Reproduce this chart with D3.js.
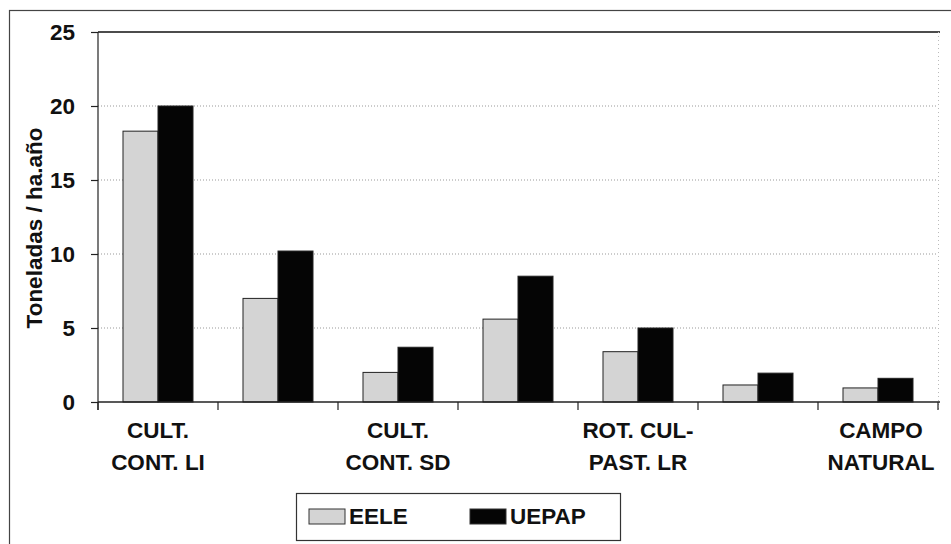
<!DOCTYPE html>
<html>
<head>
<meta charset="utf-8">
<script src="https://cdn.jsdelivr.net/npm/d3@7"></script>
<style>
  body { margin: 0; background: #fff; }
  svg { display: block; font-family: "Liberation Sans", Arial, sans-serif; font-weight: bold; }
</style>
</head>
<body>
<svg id="chart" width="951" height="544"></svg>
<script>
// seven groups, Excel only printed every other label
const categories = [0, 1, 2, 3, 4, 5, 6];
const tickLabels = [["CULT.", "CONT. LI"], null, ["CULT.", "CONT. SD"], null,
                    ["ROT. CUL-", "PAST. LR"], null, ["CAMPO", "NATURAL"]];
const series = ["EELE", "UEPAP"];
const eele  = [18.3, 7.0, 2.0, 5.6, 3.4, 1.15, 0.95];
const uepap = [20.0, 10.2, 3.7, 8.5, 5.0, 1.95, 1.6];
const yTicks = [0, 5, 10, 15, 20, 25];

const colors = { EELE: "#d4d4d4", UEPAP: "#050505" };

drawChart();

function drawChart(){
    let svg = d3.select("#chart");

    // outer frame of the scanned figure
    svg.append("rect")
        .attr("x", 9.5).attr("y", 10.5)
        .attr("width", 945).attr("height", 545)
        .attr("fill", "none").attr("stroke", "#444").attr("stroke-width", 1.2);

    let x = d3.scaleBand().domain(categories).range([98, 938]).padding(0);
    let xs = d3.scaleBand().domain(series)
        .range([25, x.bandwidth() - 25]).padding(0);
    let y = d3.scaleLinear().domain([0, 25]).range([402, 32]);

    // gridlines
    svg.append("g").selectAll("line")
        .data(yTicks.filter(d => d > 0))
        .enter().append("line")
        .attr("x1", 98).attr("x2", d => d === 25 ? 940 : 938)
        .attr("y1", d => y(d)).attr("y2", d => y(d))
        .attr("stroke", d => d === 25 ? "#111" : "#999")
        .attr("stroke-width", d => d === 25 ? 1.5 : 1)
        .attr("stroke-dasharray", d => d === 25 ? null : "1,2");

    // faint right border of the plot area
    svg.append("line")
        .attr("x1", 938.5).attr("x2", 938.5).attr("y1", 32).attr("y2", 410)
        .attr("stroke", "#bbb").attr("stroke-dasharray", "1,3");

    // bars
    let data = categories.map((c, i) => ({c: c, values: [
        {key: "EELE", v: eele[i]}, {key: "UEPAP", v: uepap[i]}]}));

    let g = svg.append("g").selectAll("g")
        .data(data).enter().append("g")
        .attr("transform", d => "translate(" + x(d.c) + ",0)");

    g.selectAll("rect")
        .data(d => d.values)
        .enter().append("rect")
        .attr("x", d => xs(d.key))
        .attr("y", d => y(d.v))
        .attr("width", xs.bandwidth())
        .attr("height", d => y(0) - y(d.v))
        .attr("fill", d => colors[d.key])
        .attr("stroke", "#222").attr("stroke-width", 1);

    // y axis
    let yAxis = svg.append("g")
        .attr("transform", "translate(98,0)")
        .call(d3.axisLeft(y).tickValues(yTicks).tickSize(7).tickPadding(16));
    yAxis.select(".domain").remove();
    yAxis.selectAll("line").attr("stroke", "#222").attr("stroke-width", 1.2);
    yAxis.selectAll("text").attr("font-size", 22.5).attr("font-weight", "bold")
        .attr("fill", "#111").attr("font-family", "Liberation Sans, Arial, sans-serif");
    svg.append("line").attr("x1", 98).attr("x2", 98).attr("y1", 32).attr("y2", 410)
        .attr("stroke", "#222").attr("stroke-width", 1.2);

    // x axis line and ticks at group boundaries
    svg.append("line").attr("x1", 98).attr("x2", 940).attr("y1", y(0)).attr("y2", y(0))
        .attr("stroke", "#222").attr("stroke-width", 1.5);
    let bounds = categories.map(c => x(c)).concat([x.range()[1]]);
    svg.append("g").selectAll("line")
        .data(bounds).enter().append("line")
        .attr("x1", d => d).attr("x2", d => d)
        .attr("y1", y(0)).attr("y2", y(0) + 8)
        .attr("stroke", "#222").attr("stroke-width", 1.2);

    // x labels (two lines)
    let lab = svg.append("g").selectAll("text")
        .data(categories.filter(c => tickLabels[c]))
        .enter().append("text")
        .attr("text-anchor", "middle")
        .attr("font-size", 22.5)
        .attr("fill", "#111");
    lab.selectAll("tspan")
        .data(c => tickLabels[c].map(t => ({c: c, t: t})))
        .enter().append("tspan")
        .attr("x", d => x(d.c) + x.bandwidth() / 2 + (d.c === 6 ? 3 : 0))
        .attr("y", (d, i) => 438 + i * 32)
        .text(d => d.t);

    // y title
    svg.append("text")
        .attr("transform", "translate(42,228) rotate(-90)")
        .attr("text-anchor", "middle")
        .attr("font-size", 22.5).attr("fill", "#111")
        .text("Toneladas / ha.año");

    // legend
    let leg = svg.append("g");
    leg.append("rect").attr("x", 296.5).attr("y", 493.5).attr("width", 324).attr("height", 47)
        .attr("fill", "#fff").attr("stroke", "#333").attr("stroke-width", 1.2);
    let items = leg.selectAll("g").data(series).enter().append("g")
        .attr("transform", (d, i) => "translate(" + (309 + i * 161) + ",509)");
    items.append("rect").attr("width", 36).attr("height", 15)
        .attr("fill", d => colors[d]).attr("stroke", "#333");
    items.append("text").attr("x", 40).attr("y", 15)
        .attr("font-size", 22.5).attr("fill", "#111")
        .text(d => d);
}
</script>
</body>
</html>
